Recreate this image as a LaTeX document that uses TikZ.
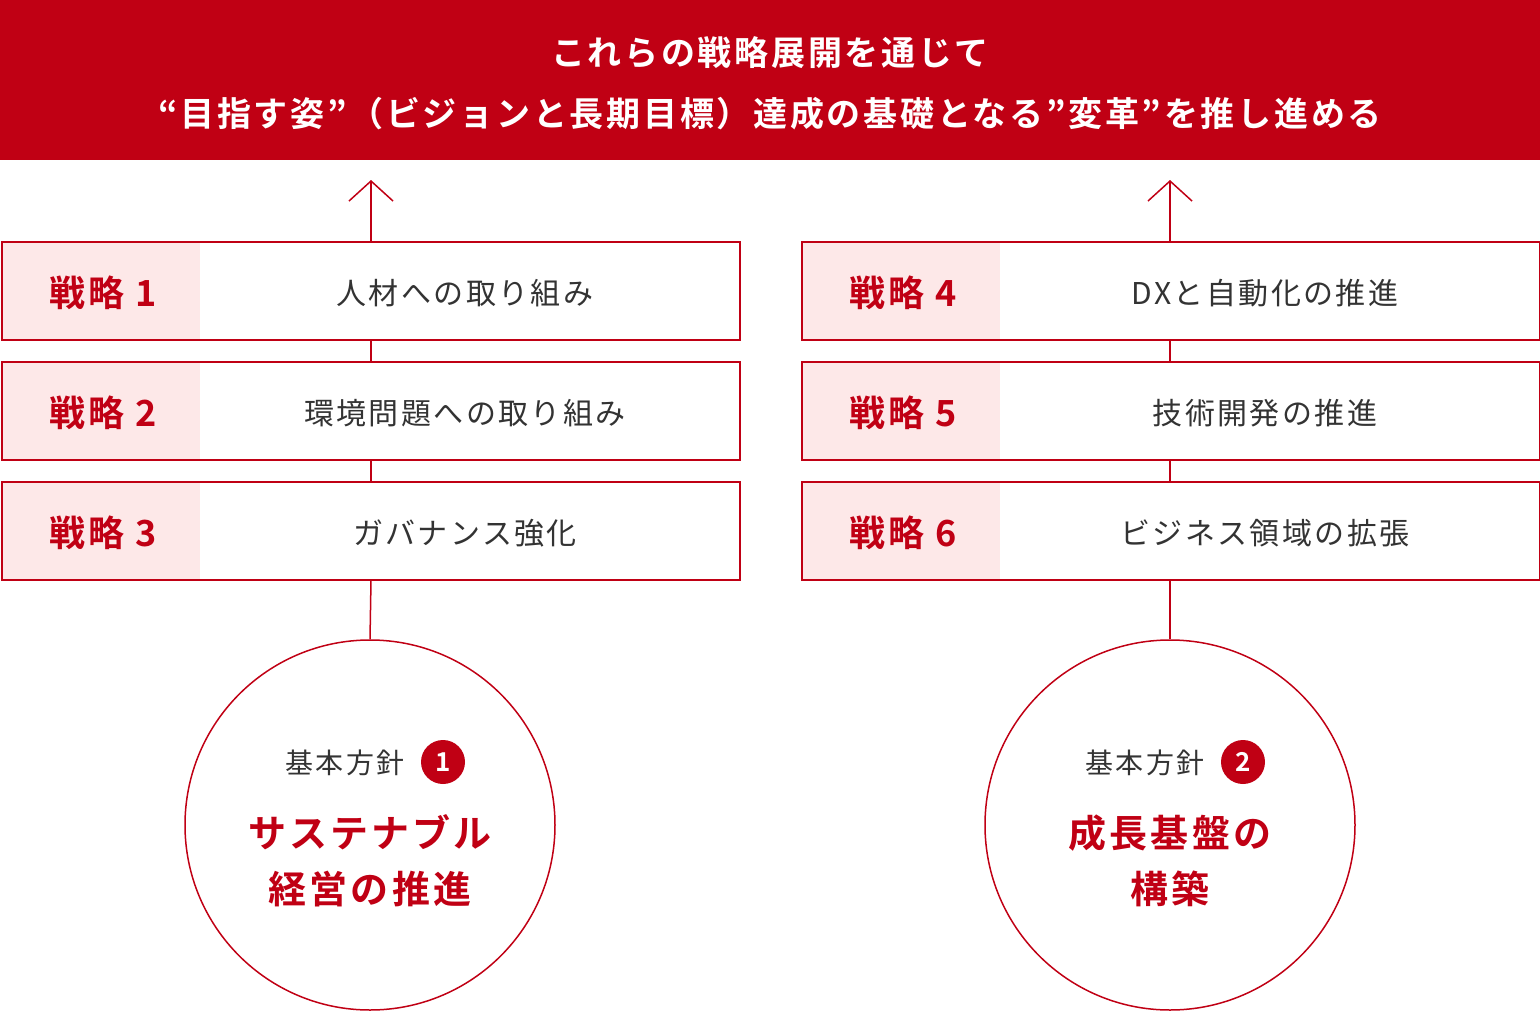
\documentclass[tikz,border=0pt]{standalone}
\usepackage{fontspec}
\setmainfont{Noto Sans CJK JP}[BoldFont={* Bold},LetterSpace=8]
\usetikzlibrary{arrows.meta}
\definecolor{cred}{HTML}{C00014}
\definecolor{cpink}{HTML}{FDE8E8}
\definecolor{cgray}{HTML}{333333}
\begin{document}
\begin{tikzpicture}[x=1pt,y=-1pt,
  boxs/.style={draw=cred,line width=1.5pt,minimum width=738pt,minimum height=98pt,inner sep=0},
  lab/.style={font=\fontsize{36}{40}\selectfont\bfseries,text=cred},
  btxt/.style={font=\fontsize{30}{34}\selectfont,text=cgray},
  ln/.style={draw=cred,line width=1.5pt},
  big/.style={circle,draw=cred,line width=1.5pt,minimum size=370pt,inner sep=0},
  num/.style={circle,fill=cred,text=white,minimum size=44pt,inner sep=0,font=\fontsize{26}{28}\selectfont\bfseries}]
\useasboundingbox (0,0) rectangle (1540,1012);
\fill[cred] (0,0) rectangle (1540,160);
\node (title) [text=white,align=center,font=\fontsize{34}{61}\selectfont\bfseries] at (770,83)
 {これらの戦略展開を通じて\\“目指す姿”（ビジョンと長期目標）達成の基礎となる”変革”を推し進める};
\foreach \side/\x/\a/\b/\c/\na/\nb/\nc in {L/1/人材への取り組み/環境問題への取り組み/ガバナンス強化/1/2/3,
  R/801/DXと自動化の推進/技術開発の推進/ビジネス領域の拡張/4/5/6}{
  \foreach \y/\t/\n [count=\i] in {241/\a/\na,361/\b/\nb,481/\c/\nc}{
    \fill[cpink] (\x,\y) rectangle (\x+199,\y+98);
    \node (box\side\i) [boxs,anchor=north west] at (\x,\y) {};
    \node (lab\side\i) [lab] at (\x+102,\y+52) {戦略 \n};
    \node (txt\side\i) [btxt] at (\x+464,\y+52) {\t};
  }
}
\coordinate (arrL) at (371,180);
\coordinate (arrR) at (1170,180);
\node (cirL) [big] at (370,825) {};
\node (cirR) [big] at (1170,825) {};
\foreach \s in {L,R}{
  \draw[ln,-{Straight Barb[length=20pt,width=44pt,line width=1.5pt]}] (boxL1.north -| arr\s) -- (arr\s);
  \draw[ln] (box\s1.south -| arr\s) -- (box\s2.north -| arr\s);
  \draw[ln] (box\s2.south -| arr\s) -- (box\s3.north -| arr\s);
  \draw[ln] (box\s3.south -| arr\s) -- (cir\s.north);
}
\node (kL) [font=\fontsize{28}{30}\selectfont,text=cgray] at (345,763) {基本方針};
\node (nL) [num] at (443,762) {1};
\node (tL) [align=center,text=cred,font=\fontsize{38}{56}\selectfont\bfseries] at (370,861) {サステナブル\\経営の推進};
\node (kR) [font=\fontsize{28}{30}\selectfont,text=cgray] at (1145,763) {基本方針};
\node (nR) [num] at (1243,762) {2};
\node (tR) [align=center,text=cred,font=\fontsize{38}{56}\selectfont\bfseries] at (1170,861) {成長基盤の\\構築};
\end{tikzpicture}
\end{document}
